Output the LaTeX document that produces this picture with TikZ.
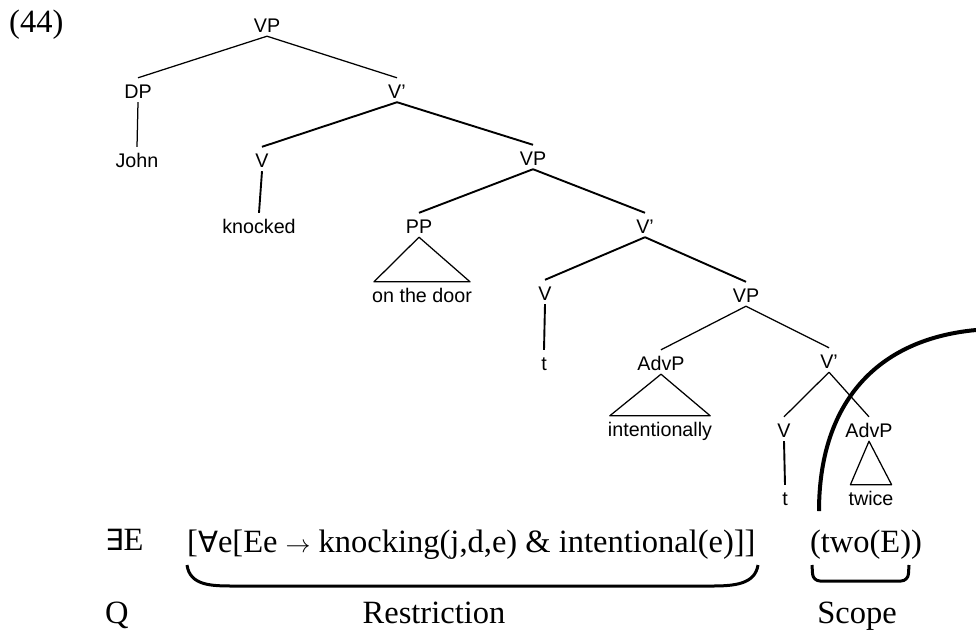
\documentclass[tikz,border=0pt]{standalone}
\usepackage{fontspec}
\setmainfont{Liberation Serif}
\newfontfamily\treefont{Liberation Sans}
\newfontfamily\symfont{DejaVu Sans}[Scale=0.9]
\tikzset{
 lab/.style={anchor=base,inner sep=0pt,text height=20pt,text depth=4pt,font=\treefont\fontsize{19.7}{22}\selectfont},
 formula/.style={anchor=base,inner sep=0pt,font=\fontsize{32.5}{38}\selectfont},
 branch/.style={line width=1.25pt},
 heavy/.style={line width=1.9pt},
}
\begin{document}
\begin{tikzpicture}[x=1pt,y=-1pt,line join=round]
 \useasboundingbox (0,0) rectangle (976,633);
 \node[formula,anchor=base west] (num) at (9,32) {(44)};
 %% tree nodes: name/x/baseline/label
 \foreach \n/\x/\y/\t in {vpa/267/32/VP, dp/138/98/DP, john/137/167/John, vba/397/98/V’,
   va/262/167/V, knocked/259/233/knocked, vpb/533/165/VP, pp/419/233/PP, door/422/302/on the door,
   vbb/645/233/V’, vb/545/300/V, ta/544/370/t, vpc/746/302/VP, advpa/661/370/AdvP,
   intent/660/436/intentionally, vbc/829/368/V’, vc/784/437/V, advpb/869/437/AdvP,
   tb/785/505/t, twice/871/505/twice}
   {\node[lab] (\n) at (\x,\y) {\t};}
 %% branches
 \foreach \a/\b in {vpa/dp, vpa/vba, dp/john, vpc/advpa, vpc/vbc, vbc/vc, vbc/advpb}
   {\draw[branch] (\a.south) -- (\b.north);}
 \foreach \a/\b in {vba/va, vba/vpb, va/knocked, vpb/pp, vpb/vbb, vbb/vb, vbb/vpc, vb/ta, vc/tb}
   {\draw[heavy] (\a.south) -- (\b.north);}
 %% roofs
 \foreach \a/\b in {pp/door, advpa/intent, advpb/twice}
   {\draw[branch] (\a.south) -- ([xshift=2pt]\b.north west) -- ([xshift=-2pt]\b.north east) -- cycle;}
 %% scope arc
 \coordinate (arcfoot) at (819,511);
 \coordinate (arctop) at (976,330);
 \draw[line width=4pt] (arcfoot) .. controls (819,410) and (870,340) .. (arctop);
 %% logical form
 \node[formula,anchor=base west] (ex) at (105,550) {{\symfont ∃}E};
 \node[formula,anchor=base west] (restr) at (187,552) {[{\symfont ∀}e[Ee $\rightarrow$ knocking(j,d,e) \& intentional(e)]]};
 \node[formula] (scp) at (866,552) {(two(E))};
 \node[formula,anchor=base west] (q) at (105,623) {Q};
 \node[formula] (rlab) at (434,623) {Restriction};
 \node[formula] (slab) at (857,623) {Scope};
 %% braces
 \draw[line width=3pt] (187,565) .. controls (190,586) and (212,586) .. (235,586) -- (712,586)
   .. controls (735,586) and (755,584) .. (758,565);
 \draw[line width=3pt,rounded corners=7pt] (812,565) -- (813,581) -- (908,581) -- (909,565);
\end{tikzpicture}
\end{document}
